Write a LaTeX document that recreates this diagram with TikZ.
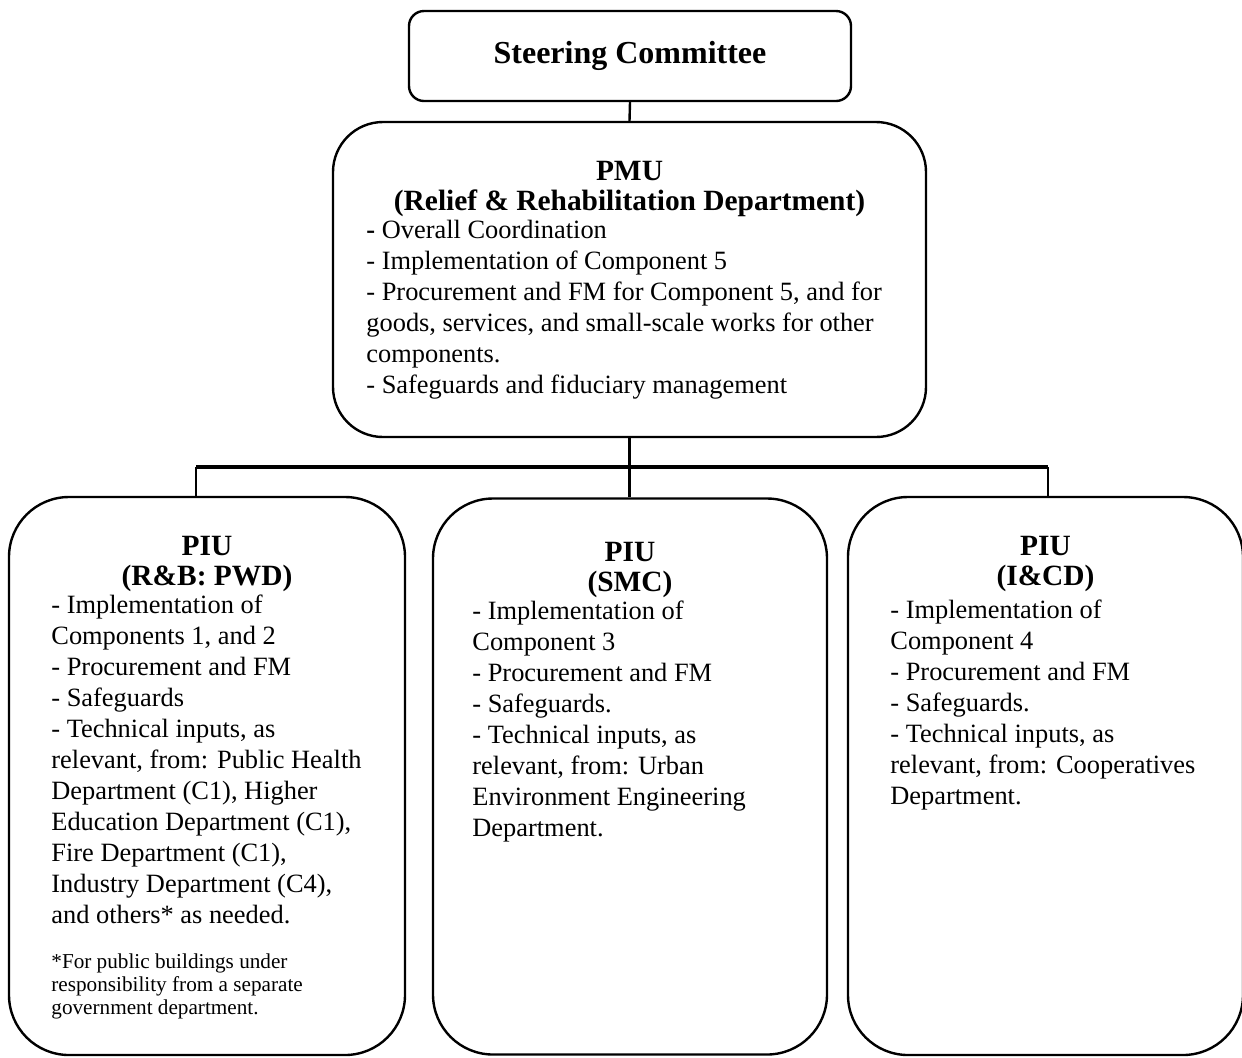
\documentclass[tikz,border=0pt]{standalone}
\usepackage{fontspec}
\setmainfont{Liberation Serif}
\usetikzlibrary{positioning,calc}

\begin{document}
\begin{tikzpicture}[x=0.5pt, y=-0.5pt,
    box/.style={rectangle, draw, line width=1.2pt, inner sep=0pt},
    head/.style={font=\fontsize{14.7}{15}\selectfont\bfseries, align=center, inner sep=0pt, anchor=base},
    body/.style={font=\fontsize{13.2}{15.5}\selectfont, align=left, inner sep=0pt, anchor=base west},
    note/.style={font=\fontsize{10.6}{11.5}\selectfont, align=left, inner sep=0pt, anchor=base west},
    link/.style={line width=1.2pt},
    bus/.style={line width=1.8pt}]
    \useasboundingbox (0,0) rectangle (1242,1057);

    % boxes
    \node (steer) [box, rounded corners=7.5pt, minimum width=221pt, minimum height=45pt,
        font=\fontsize{16}{18}\selectfont\bfseries] at (630,56) {Steering Committee};
    \node (pmu) [box, rounded corners=25pt, minimum width=296.5pt, minimum height=157.5pt] at (629.5,279.5) {};
    \node (piu1) [box, rounded corners=30pt, minimum width=198pt, minimum height=279pt] at (207,776) {};
    \node (piu2) [box, rounded corners=30pt, minimum width=197pt, minimum height=278pt] at (630,776.5) {};
    \node (piu3) [box, rounded corners=30pt, minimum width=197.5pt, minimum height=279pt] at (1045.5,776) {};

    % texts (anchored at the baseline of their last line)
    \node (pmuhead) [head] at (629.5,210) {PMU\\(Relief \& Rehabilitation Department)};
    \node (pmubody) [body] at (366,393) {\textbf{-} Overall Coordination\\
        - Implementation of Component 5\\
        - Procurement and FM for Component 5, and for\\
        goods, services, and small-scale works for other\\
        components.\\
        - Safeguards and fiduciary management};

    \node (piu1head) [head] at (207,585) {PIU\\(R\&B: PWD)};
    \node (piu1body) [body] at (51,923) {- Implementation of\\
        Components 1, and 2\\
        - Procurement and FM\\
        - Safeguards\\
        - Technical inputs, as\\
        relevant, from: Public Health\\
        Department (C1), Higher\\
        Education Department (C1),\\
        Fire Department (C1),\\
        Industry Department (C4),\\
        and others* as needed.};
    \node (piu1note) [note] at (51,1014) {*For public buildings under\\
        responsibility from a separate\\
        government department.};

    \node (piu2head) [head] at (630,591) {PIU\\(SMC)};
    \node (piu2body) [body] at (472,836) {- Implementation of\\
        Component 3\\
        - Procurement and FM\\
        - Safeguards.\\
        - Technical inputs, as\\
        relevant, from: Urban\\
        Environment Engineering\\
        Department.};

    \node (piu3head) [head] at (1045.5,585) {PIU\\(I\&CD)};
    \node (piu3body) [body] at (890,804) {- Implementation of\\
        Component 4\\
        - Procurement and FM\\
        - Safeguards.\\
        - Technical inputs, as\\
        relevant, from: Cooperatives\\
        Department.};

    % connectors
    \coordinate (busL) at (196,467);
    \coordinate (busR) at (1048,467);
    \draw [link] (steer.south) -- (pmu.north);
    \draw [link] (pmu.south) -- (pmu.south |- busL);
    \draw [bus] (busL) -- (busR);
    \draw [link] (busL) -- (busL |- piu1.north);
    \draw [link] (pmu.south |- busL) -- (pmu.south |- piu2.north);
    \draw [link] (busR) -- (busR |- piu3.north);
\end{tikzpicture}
\end{document}
